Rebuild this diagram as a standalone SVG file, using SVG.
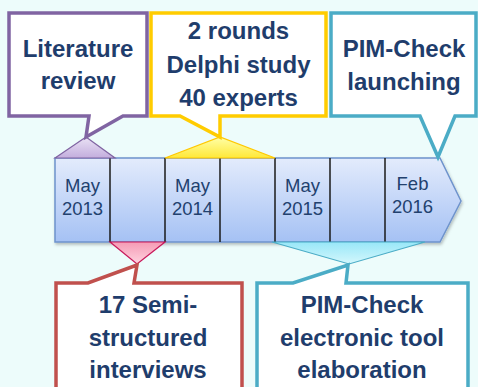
<svg xmlns="http://www.w3.org/2000/svg" width="478" height="387" viewBox="0 0 478 387">
<defs>
<linearGradient id="gTl" x1="0" y1="0" x2="0" y2="1"><stop offset="0" stop-color="#E3EBFC"/><stop offset="1" stop-color="#A5C1F4"/></linearGradient>
<linearGradient id="gPu" x1="0" y1="0" x2="0" y2="1"><stop offset="0" stop-color="#EAE2F5"/><stop offset="1" stop-color="#C3AEDD"/></linearGradient>
<linearGradient id="gYe" x1="0" y1="0" x2="0" y2="1"><stop offset="0" stop-color="#FFFFA8"/><stop offset="1" stop-color="#FFE838"/></linearGradient>
<linearGradient id="gPi" x1="0" y1="0" x2="0" y2="1"><stop offset="0" stop-color="#F59BB5"/><stop offset="1" stop-color="#FFD3DF"/></linearGradient>
<linearGradient id="gCy" x1="0" y1="0" x2="0" y2="1"><stop offset="0" stop-color="#98E7F8"/><stop offset="1" stop-color="#D4F7FC"/></linearGradient>
<filter id="sh" x="-10%" y="-10%" width="120%" height="130%"><feDropShadow dx="1" dy="2" stdDeviation="1.5" flood-color="#000" flood-opacity="0.25"/></filter>
</defs>
<style>
.co{fill:#fff;stroke-width:3.5;stroke-linejoin:miter}
.t{font-family:"Liberation Sans",Arial,sans-serif;font-weight:bold;font-size:24px;fill:#1F3D6C;text-anchor:middle}
.d{font-family:"Liberation Sans",Arial,sans-serif;font-size:18.5px;fill:#22416E;text-anchor:middle}
.dv{stroke:#1a1a1a;stroke-width:1.5}
</style>
<rect width="478" height="387" fill="#EDFCFB"/>
<g id="timeline">
<path d="M55,158 H440 L461,201 L440,242 H55 Z" fill="url(#gTl)" stroke="#6E93CC" stroke-width="1.5" filter="url(#sh)"/>
<line class="dv" x1="110" y1="158" x2="110" y2="242"/>
<line class="dv" x1="165" y1="158" x2="165" y2="242"/>
<line class="dv" x1="220" y1="158" x2="220" y2="242"/>
<line class="dv" x1="275" y1="158" x2="275" y2="242"/>
<line class="dv" x1="330" y1="158" x2="330" y2="242"/>
<line class="dv" x1="385" y1="158" x2="385" y2="242"/>
<text class="d" x="82.5" y="192">May</text><text class="d" x="82.5" y="215">2013</text>
<text class="d" x="192.5" y="192">May</text><text class="d" x="192.5" y="215">2014</text>
<text class="d" x="302.5" y="192">May</text><text class="d" x="302.5" y="215">2015</text>
<text class="d" x="412.5" y="190">Feb</text><text class="d" x="412.5" y="213">2016</text>
</g>
<g id="connectors">
<path d="M55,158 L86,137 L115,158 Z" fill="url(#gPu)" stroke="#8064A2" stroke-width="1.2"/>
<path d="M165,158 L220,137 L275,158 Z" fill="url(#gYe)" stroke="#FFC800" stroke-width="1.2"/>
<path d="M110,242 L137,264 L165,242 Z" fill="url(#gPi)" stroke="#C8185A" stroke-width="1.2"/>
<path d="M272,242 L349,264 L425,242 Z" fill="url(#gCy)" stroke="#4BACC6" stroke-width="1.2"/>
</g>
<g id="literature-review">
<path class="co" d="M9,13 H147 V116 H123 L86,137 L89,116 H9 Z" stroke="#8064A2"/>
<text class="t" x="78" y="57">Literature</text>
<text class="t" x="78" y="89">review</text>
</g>
<g id="delphi-study">
<path class="co" d="M151,13 H326 V116 H220 V137 L180,116 H151 Z" stroke="#FFCC00"/>
<text class="t" x="238.5" y="39">2 rounds</text>
<text class="t" x="238.5" y="73">Delphi study</text>
<text class="t" x="238.5" y="106">40 experts</text>
</g>
<g id="pim-check-launching">
<path class="co" d="M331,13 H476 V116 H455 L438,157 L420,116 H331 Z" stroke="#4BACC6"/>
<text class="t" x="404" y="57">PIM-Check</text>
<text class="t" x="404" y="90">launching</text>
</g>
<g id="interviews">
<path class="co" d="M56,283 H88 L137,265 L134,283 H242 V395 H56 Z" stroke="#C0504D"/>
<text class="t" x="148" y="313">17 Semi-</text>
<text class="t" x="148" y="346">structured</text>
<text class="t" x="148" y="378">interviews</text>
</g>
<g id="tool-elaboration">
<path class="co" d="M257,283 H293 L348,265 L346,283 H468 V395 H257 Z" stroke="#4BACC6"/>
<text class="t" x="362" y="313">PIM-Check</text>
<text class="t" x="362" y="346">electronic tool</text>
<text class="t" x="362" y="378">elaboration</text>
</g>
</svg>
